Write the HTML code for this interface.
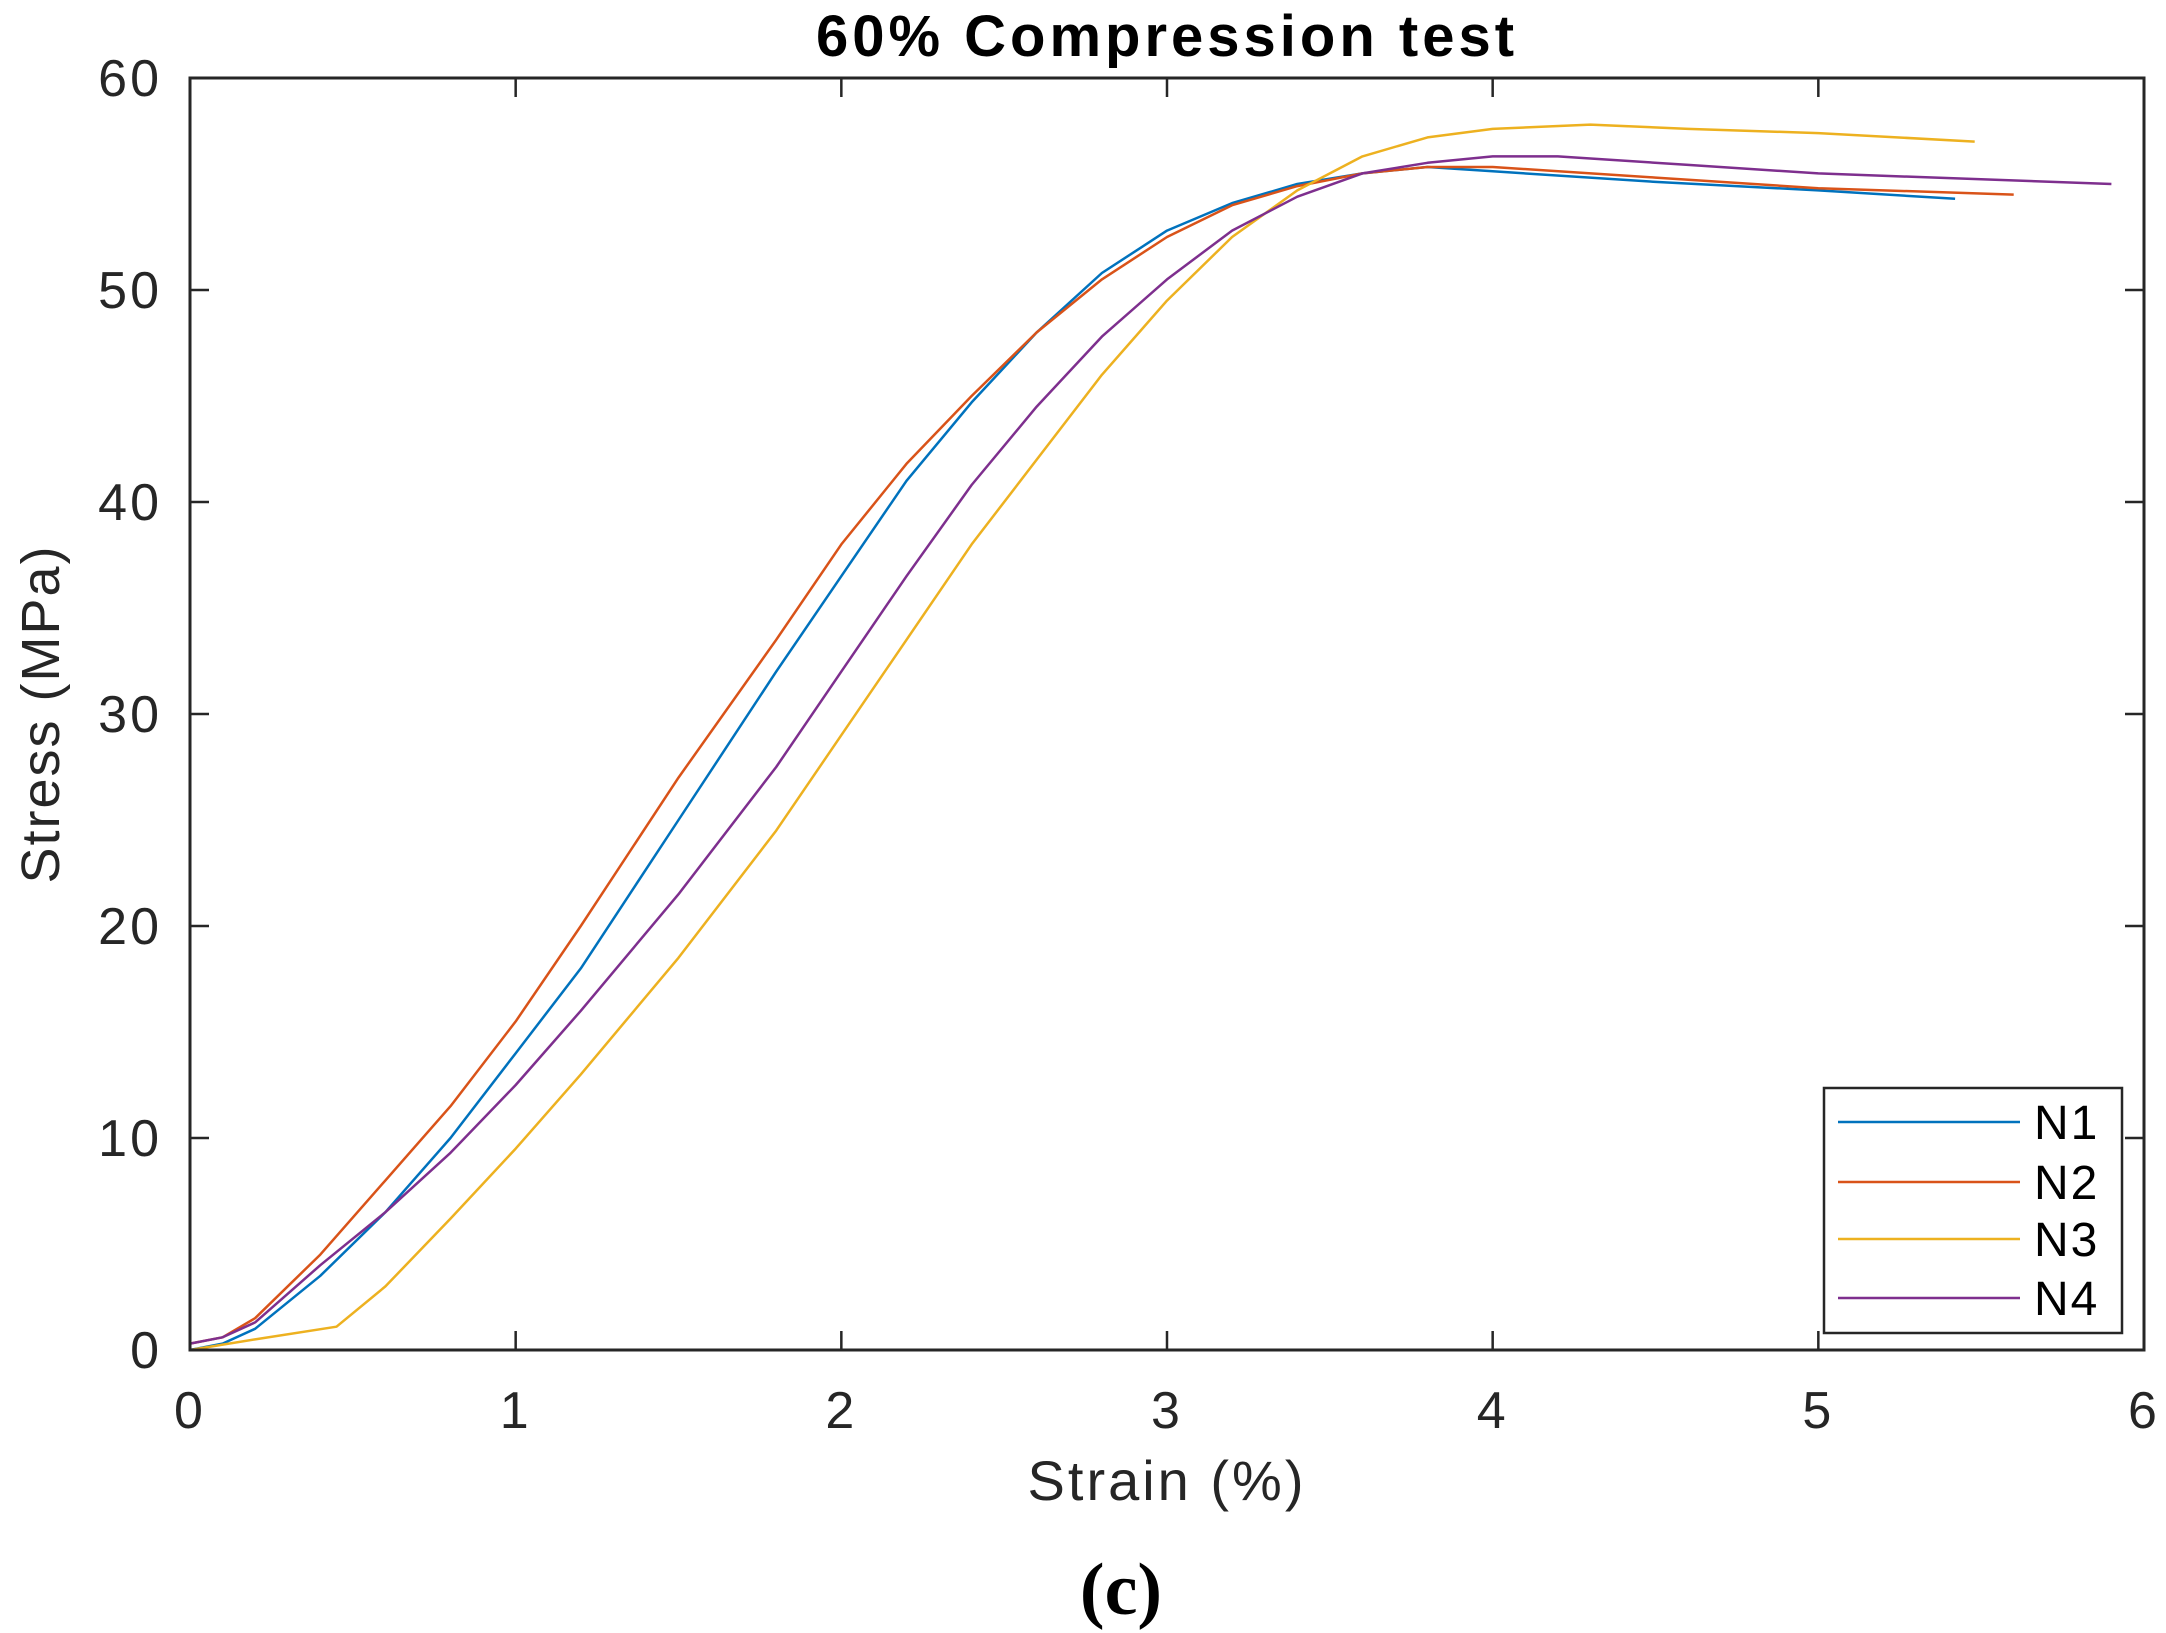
<!DOCTYPE html>
<html><head><meta charset="utf-8"><style>
html,body{margin:0;padding:0;background:#fff;}
svg{display:block;font-family:"Liberation Sans",sans-serif;}
</style></head><body>
<svg id="chart" width="2166" height="1633" viewBox="0 0 2166 1633">
<g id="plot"></g>
</svg>
<script>
const xTicks=[0,1,2,3,4,5,6];
const yTicks=[0,10,20,30,40,50,60];
const seriesNames=["N1","N2","N3","N4"];
const seriesColors=["#0072BD","#D95319","#EDB120","#7E2F8E"];
const n1X=[0,0.1,0.2,0.4,0.6,0.8,1,1.2,1.5,1.8,2,2.2,2.4,2.6,2.8,3,3.2,3.4,3.6,3.8,4,4.5,5,5.42];
const n1Y=[0,0.3,1,3.5,6.5,10,14,18,25,32,36.5,41,44.7,48,50.8,52.8,54.1,55,55.5,55.8,55.6,55.1,54.7,54.3];
const n2X=[0,0.1,0.2,0.4,0.6,0.8,1,1.2,1.5,1.8,2,2.2,2.4,2.6,2.8,3,3.2,3.4,3.6,3.8,4,4.5,5,5.6];
const n2Y=[0.3,0.6,1.5,4.5,8,11.5,15.5,20,27,33.5,38,41.8,45,48,50.5,52.5,54,54.9,55.5,55.8,55.8,55.3,54.8,54.5];
const n3X=[0,0.2,0.45,0.6,0.8,1,1.2,1.5,1.8,2,2.2,2.4,2.6,2.8,3,3.2,3.4,3.6,3.8,4,4.3,4.6,5,5.48];
const n3Y=[0,0.5,1.1,3,6.2,9.5,13,18.5,24.5,29,33.5,38,42,46,49.5,52.5,54.7,56.3,57.2,57.6,57.8,57.6,57.4,57];
const n4X=[0,0.1,0.2,0.4,0.6,0.8,1,1.2,1.5,1.8,2,2.2,2.4,2.6,2.8,3,3.2,3.4,3.6,3.8,4,4.2,4.6,5,5.9];
const n4Y=[0.3,0.6,1.3,4,6.5,9.3,12.5,16,21.5,27.5,32,36.5,40.8,44.5,47.8,50.5,52.8,54.4,55.5,56,56.3,56.3,55.9,55.5,55];

const L=190,R=2144,T=78,B=1350;
const sx=v=>L+(v-0)/(6-0)*(R-L);
const sy=v=>B-(v-0)/(60-0)*(B-T);
const NS="http://www.w3.org/2000/svg";
const g=document.getElementById('plot');
function mk(tag,attrs,parent){const e=document.createElementNS(NS,tag);for(const k in attrs)e.setAttribute(k,attrs[k]);(parent||g).appendChild(e);return e;}

const xs=[n1X,n2X,n3X,n4X], ys=[n1Y,n2Y,n3Y,n4Y];
for(let s=0;s<4;s++){
  const pts=xs[s].map((x,i)=>sx(x).toFixed(1)+","+sy(ys[s][i]).toFixed(1)).join(" ");
  const p=mk('polyline',{points:pts,fill:'none',stroke:seriesColors[s],'stroke-width':2.5,'stroke-linejoin':'round'});
  
  
}
const box=mk('rect',{x:L,y:T,width:R-L,height:B-T,fill:'none',stroke:'#262626','stroke-width':3});


xTicks.forEach(t=>{
  const x=sx(t);
  mk('line',{x1:x,y1:B,x2:x,y2:B-19,stroke:'#262626','stroke-width':2.5});
  mk('line',{x1:x,y1:T,x2:x,y2:T+19,stroke:'#262626','stroke-width':2.5});
  const tx=mk('text',{x:x,y:1428,'text-anchor':'middle','font-size':52,'letter-spacing':3,fill:'#262626'});
  tx.textContent=t;
  
  
});
yTicks.forEach(t=>{
  const y=sy(t);
  mk('line',{x1:L,y1:y,x2:L+19,y2:y,stroke:'#262626','stroke-width':2.5});
  mk('line',{x1:R,y1:y,x2:R-19,y2:y,stroke:'#262626','stroke-width':2.5});
  const tx=mk('text',{x:162,y:y+18,'text-anchor':'end','font-size':52,'letter-spacing':3,fill:'#262626'});
  tx.textContent=t;
  
  
});
let e=mk('text',{x:1167,y:56,'text-anchor':'middle','font-size':58,'font-weight':'bold','letter-spacing':4,fill:'#000'});
e.textContent='60% Compression test';


e=mk('text',{x:1167,y:1500,'text-anchor':'middle','font-size':56,'letter-spacing':3,fill:'#262626'});
e.textContent='Strain (%)';


e=mk('text',{x:0,y:0,'text-anchor':'middle','font-size':54,'letter-spacing':2,fill:'#262626',transform:'translate(59,714) rotate(-90)'});
e.textContent='Stress (MPa)';


e=mk('text',{x:1121,y:1614,'text-anchor':'middle','font-size':74,'font-weight':'bold','font-family':'"Liberation Serif",serif',fill:'#000'});
e.textContent='(c)';


const lg=mk('g',{});


mk('rect',{x:1824,y:1088,width:298,height:245,fill:'#fff',stroke:'#262626','stroke-width':2.5},lg);
const rowsY=[1122,1182,1239,1298];
for(let s=0;s<4;s++){
  const ent=mk('g',{},lg);
  
  
  mk('line',{x1:1838,y1:rowsY[s],x2:2020,y2:rowsY[s],stroke:seriesColors[s],'stroke-width':2.5},ent);
  const t=mk('text',{x:2034,y:rowsY[s]+17,'font-size':48,'letter-spacing':2,fill:'#000'},ent);
  t.textContent=seriesNames[s];
}
</script>
</body></html>
